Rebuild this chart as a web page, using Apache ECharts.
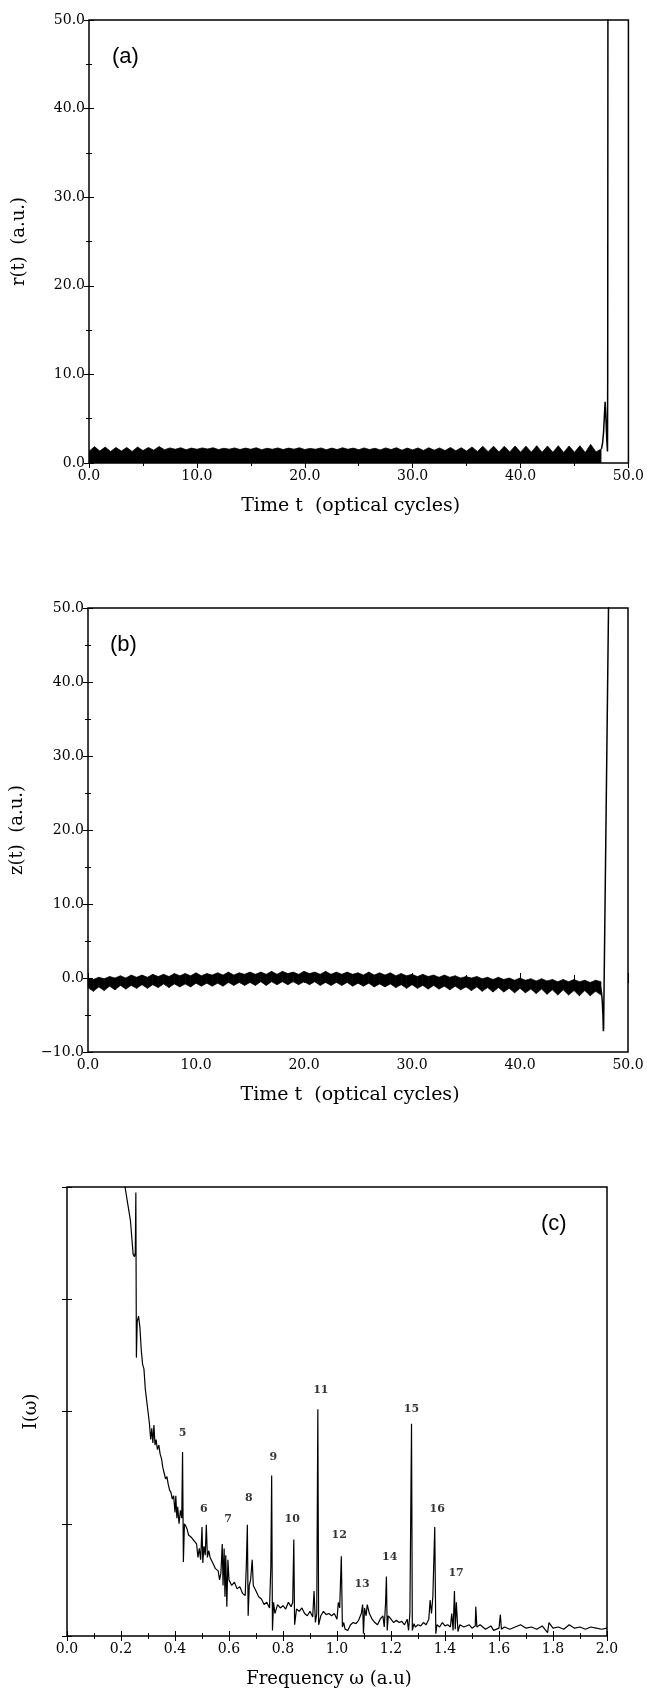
<!DOCTYPE html>
<html>
<head>
<meta charset="utf-8">
<script src="https://cdn.jsdelivr.net/npm/echarts@6.0.0/dist/echarts.min.js"></script>
<style>
body{margin:0;background:#fff;}
#main{width:647px;height:1689px;}
</style>
</head>
<body>
<div id="main"></div>
<script>
// sample times of the oscillation band (optical cycles)
var bandTime = [0,0.5,1,1.5,2,2.5,3,3.5,4,4.5,5,5.5,6,6.5,7,7.5,8,8.5,9,9.5,
	10,10.5,11,11.5,12,12.5,13,13.5,14,14.5,15,15.5,16,16.5,17,17.5,18,18.5,19,19.5,
	20,20.5,21,21.5,22,22.5,23,23.5,24,24.5,25,25.5,26,26.5,27,27.5,28,28.5,29,29.5,
	30,30.5,31,31.5,32,32.5,33,33.5,34,34.5,35,35.5,36,36.5,37,37.5,38,38.5,39,39.5,
	40,40.5,41,41.5,42,42.5,43,43.5,44,44.5,45,45.5,46,46.5,47,47.5];

// (a) upper edge of r(t) band
var rUpper = [1.30,1.85,1.35,1.80,1.30,1.75,1.35,1.75,1.30,1.80,1.40,1.75,1.45,1.85,1.50,1.70,1.55,1.72,1.50,1.68,
	1.55,1.70,1.58,1.72,1.52,1.66,1.56,1.70,1.52,1.68,1.55,1.72,1.50,1.66,1.55,1.70,1.52,1.68,1.56,1.72,
	1.52,1.65,1.55,1.70,1.50,1.68,1.52,1.72,1.55,1.68,1.50,1.70,1.52,1.66,1.48,1.70,1.52,1.72,1.45,1.68,
	1.48,1.70,1.42,1.72,1.45,1.70,1.40,1.75,1.38,1.72,1.35,1.80,1.30,1.88,1.28,1.90,1.25,1.90,1.25,1.92,
	1.22,1.90,1.22,1.95,1.20,1.92,1.20,1.95,1.18,1.92,1.20,1.95,1.18,2.10,1.25,1.60];
// (a) ionisation: spike then escape
var rEscT = [47.5,47.6,47.7,47.78,47.84,47.88,47.92,48.0,48.06,48.08,48.1,48.12];
var rEscR = [1.6,2.2,3.5,5.5,6.9,6.8,5.0,2.5,1.3,10,50,56];

// (b) z(t) band edges
var zUpper = [0.0,-0.2,0.1,-0.1,0.2,0.0,0.3,0.0,0.4,0.1,0.4,0.1,0.5,0.2,0.5,0.2,0.6,0.3,0.6,0.3,
	0.7,0.3,0.6,0.4,0.7,0.4,0.8,0.4,0.7,0.5,0.8,0.5,0.8,0.5,0.9,0.5,0.9,0.6,0.8,0.5,
	0.9,0.6,0.8,0.5,0.9,0.5,0.8,0.5,0.8,0.5,0.7,0.4,0.8,0.4,0.7,0.4,0.7,0.3,0.6,0.3,
	0.5,0.2,0.5,0.2,0.4,0.1,0.4,0.1,0.3,0.0,0.2,0.0,0.2,-0.1,0.1,-0.2,0.1,-0.2,0.0,-0.3,
	0.0,-0.3,-0.1,-0.4,-0.1,-0.4,-0.2,-0.5,-0.2,-0.5,-0.2,-0.5,-0.3,-0.6,-0.3,-0.5];
var zLower = [-1.3,-1.8,-1.2,-1.7,-1.1,-1.6,-1.0,-1.5,-1.0,-1.4,-0.9,-1.4,-0.9,-1.3,-0.8,-1.3,-0.8,-1.2,-0.8,-1.2,
	-0.7,-1.1,-0.7,-1.1,-0.7,-1.1,-0.6,-1.0,-0.6,-1.0,-0.6,-1.0,-0.5,-1.0,-0.5,-0.9,-0.5,-0.9,-0.5,-0.9,
	-0.5,-0.9,-0.5,-1.0,-0.6,-1.0,-0.6,-1.0,-0.6,-1.1,-0.7,-1.1,-0.7,-1.2,-0.8,-1.2,-0.8,-1.3,-0.9,-1.4,
	-0.9,-1.4,-1.0,-1.5,-1.0,-1.5,-1.1,-1.6,-1.1,-1.6,-1.2,-1.7,-1.2,-1.8,-1.3,-1.9,-1.3,-1.9,-1.4,-2.0,
	-1.4,-2.0,-1.5,-2.1,-1.5,-2.2,-1.6,-2.3,-1.6,-2.3,-1.7,-2.4,-1.7,-2.4,-1.8,-2.3];
var zEscT = [47.45,47.55,47.62,47.68,47.72,47.74,48.2];
var zEscZ = [-1.2,-2.0,-3.2,-5.0,-7.2,-6.8,50.5];

// (c) spectrum I(w)
var specW = [0.205,0.215,0.225,0.235,0.24,0.245,0.25,0.253,0.255,0.257,0.26,0.265,0.27,0.275,0.28,0.285,0.29,0.295,0.30,0.305,
	0.31,0.314,0.318,0.322,0.326,0.33,0.335,0.34,0.345,0.35,0.355,0.36,0.365,0.37,0.375,0.38,0.385,0.39,0.395,0.40,
	0.403,0.407,0.41,0.415,0.42,0.425,0.428,0.431,0.435,0.44,0.445,0.45,0.46,0.47,0.48,0.485,0.49,0.495,0.50,0.503,
	0.507,0.512,0.516,0.52,0.525,0.53,0.54,0.55,0.56,0.565,0.57,0.575,0.578,0.582,0.585,0.588,0.592,0.596,0.60,0.61,
	0.62,0.63,0.64,0.65,0.66,0.664,0.668,0.671,0.675,0.68,0.686,0.69,0.70,0.71,0.72,0.73,0.74,0.75,0.755,0.758,
	0.761,0.765,0.77,0.78,0.79,0.80,0.81,0.82,0.83,0.836,0.84,0.843,0.85,0.86,0.87,0.88,0.89,0.90,0.91,0.915,
	0.92,0.925,0.929,0.932,0.94,0.95,0.96,0.97,0.98,0.99,1.0,1.005,1.01,1.016,1.02,1.025,1.03,1.04,1.05,1.06,
	1.07,1.08,1.09,1.095,1.098,1.102,1.108,1.112,1.12,1.13,1.14,1.15,1.16,1.17,1.175,1.18,1.183,1.186,1.19,1.2,
	1.21,1.22,1.23,1.24,1.25,1.26,1.265,1.27,1.276,1.279,1.285,1.29,1.30,1.31,1.32,1.33,1.34,1.345,1.35,1.355,
	1.362,1.366,1.37,1.38,1.39,1.40,1.41,1.42,1.425,1.43,1.435,1.438,1.442,1.448,1.455,1.47,1.49,1.50,1.512,1.514,
	1.518,1.53,1.55,1.57,1.58,1.60,1.605,1.609,1.62,1.64,1.66,1.68,1.70,1.72,1.74,1.76,1.78,1.785,1.80,1.82,
	1.84,1.86,1.88,1.90,1.92,1.94,1.96,1.98,2.0];
var specI = [4.3,4.0,3.85,3.7,3.55,3.4,3.38,3.42,3.95,2.48,2.8,2.85,2.75,2.55,2.42,2.38,2.2,2.1,2.0,1.9,
	1.75,1.85,1.72,1.88,1.7,1.75,1.66,1.7,1.62,1.58,1.5,1.45,1.4,1.42,1.35,1.3,1.28,1.22,1.25,1.1,
	1.25,1.05,1.15,1.0,1.12,1.05,1.64,0.66,1.0,0.98,0.95,0.9,0.88,0.85,0.82,0.7,0.78,0.68,0.97,0.65,
	0.8,0.72,0.99,0.7,0.76,0.7,0.65,0.6,0.58,0.5,0.56,0.82,0.45,0.78,0.35,0.72,0.26,0.68,0.5,0.45,
	0.48,0.42,0.44,0.38,0.36,0.62,0.99,0.18,0.45,0.5,0.68,0.45,0.4,0.35,0.33,0.28,0.3,0.25,0.62,1.43,
	0.05,0.3,0.2,0.28,0.25,0.27,0.24,0.3,0.26,0.3,0.86,0.1,0.24,0.22,0.25,0.2,0.18,0.22,0.17,0.4,
	0.12,0.2,2.02,0.1,0.18,0.22,0.19,0.2,0.18,0.2,0.15,0.3,0.25,0.71,0.08,0.12,0.06,0.05,0.1,0.12,
	0.11,0.14,0.2,0.28,0.02,0.25,0.18,0.28,0.2,0.15,0.12,0.1,0.15,0.18,0.08,0.3,0.53,0.05,0.18,0.15,
	0.12,0.14,0.12,0.13,0.1,0.15,0.05,0.2,1.89,0.05,0.11,0.08,0.1,0.09,0.12,0.1,0.15,0.32,0.2,0.35,
	0.97,0.02,0.1,0.08,0.12,0.09,0.1,0.08,0.2,0.05,0.4,0.06,0.3,0.04,0.1,0.08,0.1,0.07,0.09,0.26,
	0.08,0.1,0.06,0.09,0.05,0.07,0.19,0.06,0.08,0.06,0.08,0.1,0.07,0.08,0.06,0.09,0.03,0.12,0.07,0.08,
	0.06,0.1,0.07,0.08,0.06,0.08,0.07,0.06,0.07];

// harmonic order labels
var harmonicOrder = ['5','6','7','8','9','10','11','12','13','14','15','16','17'];
var harmonicLabelW = [0.428,0.507,0.597,0.673,0.764,0.834,0.94,1.008,1.093,1.195,1.276,1.371,1.441];
var harmonicLabelI = [1.81,1.13,1.04,1.23,1.59,1.04,2.19,0.9,0.46,0.7,2.02,1.13,0.56];

var SERIF = 'DejaVu Serif';

function zip(a, b){
	var out = [];
	for(var i=0;i<a.length;i++){
		out.push([a[i], b[i]]);
	}
	return out;
}

function fmt(v){
	if(v<0) return '\u2212'+(-v).toFixed(1);
	return v.toFixed(1);
}

function xAx(grid, min, max, step, pos, name, nameSize)
{
	return {
		type:'value', gridIndex:grid, position:pos,
		min:min, max:max, interval:step,
		axisLine:{show:false}, splitLine:{show:false},
		axisTick:{show:true, inside:true, length:5, lineStyle:{color:'#000', width:1}},
		minorTick:{show:true, splitNumber:2, length:3, lineStyle:{color:'#000', width:1}},
		axisLabel:{show:pos=='bottom', margin:6, formatter:fmt, fontFamily:SERIF, fontSize:14, color:'#000'},
		name:pos=='bottom' ? name : '',
		nameLocation:'middle', nameGap:34,
		nameTextStyle:{fontFamily:SERIF, fontSize:nameSize || 18, color:'#000', padding:[0,16,0,0]}
	};
}

function yAx(grid, min, max, step, pos, name, gap, labels, minor)
{
	return {
		type:'value', gridIndex:grid, position:pos,
		min:min, max:max, interval:step,
		axisLine:{show:false}, splitLine:{show:false},
		axisTick:{show:true, inside:true, length:5, lineStyle:{color:'#000', width:1}},
		minorTick:{show:minor, splitNumber:2, length:3, lineStyle:{color:'#000', width:1}},
		axisLabel:{show:labels && pos=='left', margin:4, formatter:fmt, fontFamily:SERIF, fontSize:14, color:'#000'},
		name:pos=='left' ? name : '',
		nameLocation:'middle', nameGap:gap,
		nameTextStyle:{fontFamily:SERIF, fontSize:18, color:'#000'}
	};
}

// draws the z(t) band as quads between lower and upper edge
function zBandItem(params, api)
{
	var i = params.dataIndex;
	if(i >= bandTime.length-1) return;
	var a = api.coord([bandTime[i], zLower[i]]);
	var b = api.coord([bandTime[i+1], zLower[i+1]]);
	var c = api.coord([bandTime[i+1], zUpper[i+1]]);
	var d = api.coord([bandTime[i], zUpper[i]]);
	return {
		type:'polygon',
		shape:{points:[a,b,c,d]},
		style:{fill:'#000', stroke:'#000', lineWidth:0.7}
	};
}

var frame = {show:true, borderColor:'#000', borderWidth:1.5, backgroundColor:'transparent'};
var letterStyle = {fontFamily:'Liberation Sans', fontSize:22, fontWeight:'normal', color:'#000'};

var option = {
	animation:false,
	backgroundColor:'#fff',
	title:[
		{text:'(a)', left:112, top:46, padding:0, textStyle:letterStyle},
		{text:'(b)', left:110, top:634, padding:0, textStyle:letterStyle},
		{text:'(c)', left:541, top:1213, padding:0, textStyle:letterStyle}
	],
	grid:[
		Object.assign({left:89, top:20, width:541, height:443}, frame),
		Object.assign({left:87, top:608, width:541, height:444}, frame),
		Object.assign({left:67, top:1187, width:540, height:449}, frame)
	],
	xAxis:[
		xAx(0, 0, 50, 10, 'bottom', 'Time t  (optical cycles)', 19),
		xAx(0, 0, 50, 10, 'top', ''),
		xAx(1, 0, 50, 10, 'bottom', 'Time t  (optical cycles)', 19),
		xAx(1, 0, 50, 10, 'top', ''),
		xAx(2, 0, 2, 0.2, 'bottom', 'Frequency \u03c9 (a.u)', 18),
		xAx(2, 0, 2, 0.2, 'top', '')
	],
	yAxis:[
		yAx(0, 0, 50, 10, 'left', 'r(t)  (a.u.)', 61, true, true),
		yAx(0, 0, 50, 10, 'right', '', 0, false, true),
		yAx(1, -10, 50, 10, 'left', 'z(t)  (a.u.)', 62, true, true),
		yAx(1, -10, 50, 10, 'right', '', 0, false, true),
		yAx(2, 0, 4, 1, 'left', 'I(\u03c9)', 27, false, false),
		yAx(2, 0, 4, 1, 'right', '', 0, false, false)
	],
	series:[]
};

// (a)
option.series.push({
	name:'r band', type:'line', xAxisIndex:0, yAxisIndex:0,
	data:zip(bandTime, rUpper), symbol:'none',
	lineStyle:{color:'#000', width:0.8},
	areaStyle:{color:'#000', opacity:1}
});
option.series.push({
	name:'r escape', type:'line', xAxisIndex:0, yAxisIndex:0,
	data:zip(rEscT, rEscR), symbol:'none',
	lineStyle:{color:'#000', width:1.5}
});

// (b)
var zBandData = [];
for(var i=0;i<bandTime.length;i++){
	zBandData.push([bandTime[i], zLower[i], zUpper[i]]);
}
option.series.push({
	name:'z band', type:'custom', xAxisIndex:2, yAxisIndex:2,
	data:zBandData, encode:{x:0, y:[1,2]},
	renderItem:zBandItem
});
option.series.push({
	name:'z escape', type:'line', xAxisIndex:2, yAxisIndex:2,
	data:zip(zEscT, zEscZ), symbol:'none',
	lineStyle:{color:'#000', width:1.5}
});

// (c)
option.series.push({
	name:'spectrum', type:'line', xAxisIndex:4, yAxisIndex:4,
	data:zip(specW, specI), symbol:'none',
	lineStyle:{color:'#000', width:1.2}
});
option.series.push({
	name:'orders', type:'scatter', xAxisIndex:4, yAxisIndex:4,
	data:zip(harmonicLabelW, harmonicLabelI),
	symbolSize:1, itemStyle:{color:'rgba(0,0,0,0)'},
	label:{
		show:true, position:'inside', color:'#000',
		fontFamily:SERIF, fontWeight:'bold', fontSize:11,
		formatter:function(p){ return harmonicOrder[p.dataIndex]; }
	}
});

var myChart = echarts.init(document.getElementById('main'));
myChart.setOption(option);
</script>
</body>
</html>
